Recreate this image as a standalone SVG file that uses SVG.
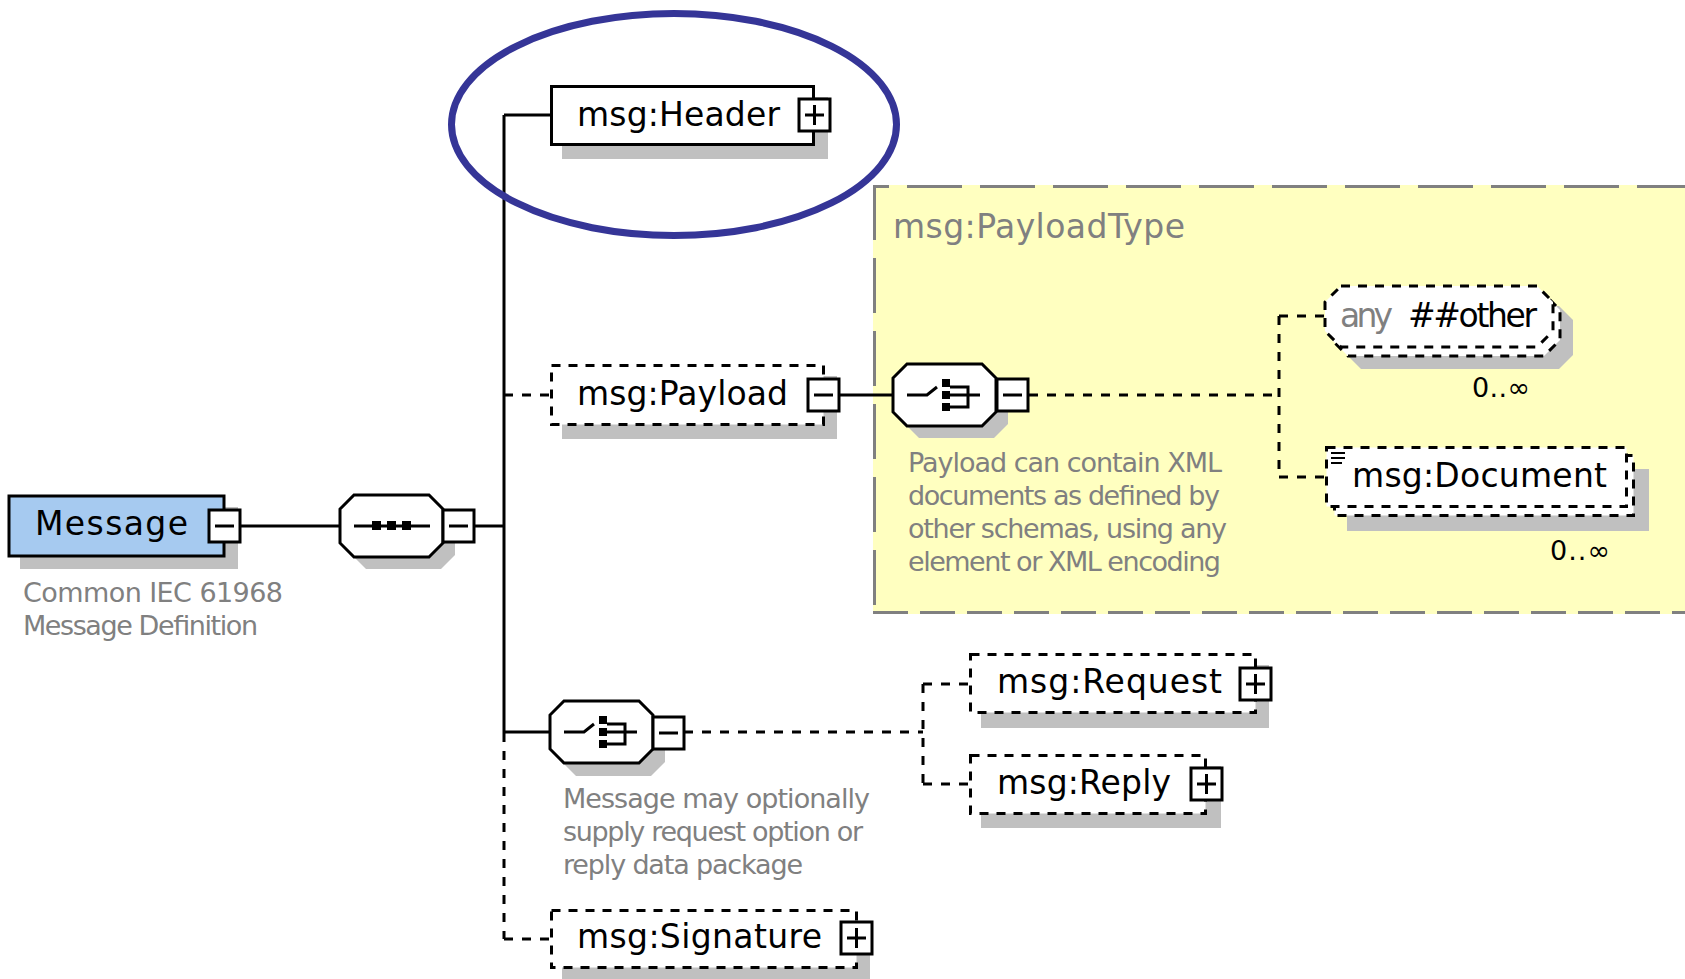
<svg xmlns="http://www.w3.org/2000/svg" xmlns:xlink="http://www.w3.org/1999/xlink" width="1685" height="979" viewBox="0 0 1685 979">
<style>
.box{fill:#fff;stroke:#000;stroke-width:3}
.dbox{fill:#fff;stroke:#000;stroke-width:3;stroke-dasharray:9 8}
.shadow{fill:#c0c0c0;stroke:none}
.ln{stroke:#000;stroke-width:3;fill:none}
.dln{stroke:#000;stroke-width:3;fill:none;stroke-dasharray:9 9}
.lbl{font-family:"DejaVu Sans",Verdana,sans-serif;font-size:33px;fill:#000}
.desc{font-family:"DejaVu Sans",Verdana,sans-serif;font-size:27px;fill:#808080}
.gray{fill:#808080}
.sq{fill:#000}
</style>
<defs>
<path id="oct" d="M14,0 H89 L103,14 V48 L89,62 H14 L0,48 V14 Z"/>
<g id="minus"><rect x="0" y="0" width="31" height="32" class="box"/><path d="M6,16 H25" class="ln"/></g>
<g id="plus"><rect x="0" y="0" width="31" height="32" class="box"/><path d="M6,16 H25 M15.5,6 V26" class="ln"/></g>
<g id="choiceIcon">
<path d="M14,0 H34 L44,-8" class="ln"/>
<rect x="49" y="-16" width="8" height="8" class="sq"/>
<rect x="49" y="-4" width="8" height="8" class="sq"/>
<rect x="49" y="8" width="8" height="8" class="sq"/>
<path d="M57,-8 H75 V12 H57 M57,0 H87" class="ln"/>
</g>
</defs>

<rect width="1685" height="979" fill="#fff"/>

<!-- PayloadType complex type area -->
<g id="payloadType">
<rect x="873" y="185" width="820" height="429" fill="#ffffc0"/>
<path d="M873,186.5 H1685" stroke="#808080" stroke-width="3" stroke-dasharray="55 18" stroke-dashoffset="39" fill="none"/>
<path d="M874.5,185 V614" stroke="#808080" stroke-width="3" stroke-dasharray="55 18" fill="none"/>
<path d="M873,612.5 H1685" stroke="#808080" stroke-width="3" stroke-dasharray="35 12" fill="none"/>
<text x="893" y="238" class="lbl gray" font-size="32" textLength="292" lengthAdjust="spacing">msg:PayloadType</text>
</g>

<g id="connectors">
<path d="M240,526 H340" class="ln"/>
<path d="M475,526 H504" class="ln"/>
<path d="M504,115 V733" class="ln"/>
<path d="M504,733 V939" class="dln"/>
<path d="M504,115 H551" class="ln"/>
<path d="M504,395 H551" class="dln"/>
<path d="M504,732 H550" class="ln"/>
<path d="M504,939 H551" class="dln"/>
<path d="M839,395 H893" class="ln"/>
<path d="M1029,395 H1279" class="dln"/>
<path d="M1279,316 V478" class="dln"/>
<path d="M1279,316 H1325" class="dln"/>
<path d="M1279,477 H1325" class="dln"/>
<path d="M684,732 H923" class="dln"/>
<path d="M923,684 V785" class="dln"/>
<path d="M923,684 H970" class="dln"/>
<path d="M923,784 H970" class="dln"/>
</g>

<g id="message">
<rect x="20" y="507" width="218" height="62" class="shadow"/>
<rect x="9" y="496" width="215" height="60" fill="#a6caf0" stroke="#000" stroke-width="3"/>
<use xlink:href="#minus" x="209" y="510"/>
<text x="35" y="535" class="lbl" textLength="153" lengthAdjust="spacing">Message</text>
<text x="23" y="602" class="desc" textLength="260" lengthAdjust="spacing">Common IEC 61968</text>
<text x="23" y="635" class="desc" textLength="235" lengthAdjust="spacing">Message Definition</text>
</g>

<g id="sequence">
<use xlink:href="#oct" x="352" y="507" class="shadow"/>
<use xlink:href="#oct" x="340" y="495" class="box"/>
<path d="M354,526 H430" class="ln"/>
<rect x="372" y="521" width="9" height="9" class="sq"/>
<rect x="387" y="521" width="9" height="9" class="sq"/>
<rect x="402" y="521" width="9" height="9" class="sq"/>
<use xlink:href="#minus" x="443" y="510"/>
</g>

<g id="header">
<rect x="562" y="97" width="266" height="62" class="shadow"/>
<rect x="551.5" y="86.5" width="262" height="58" class="box"/>
<use xlink:href="#plus" x="799" y="99"/>
<text x="577" y="126" class="lbl" textLength="203" lengthAdjust="spacing">msg:Header</text>
</g>

<g id="payload">
<rect x="562" y="376" width="275" height="63" class="shadow"/>
<rect x="551.5" y="365.5" width="272" height="59" class="dbox"/>
<use xlink:href="#minus" x="808" y="379"/>
<text x="577" y="405" class="lbl" textLength="211" lengthAdjust="spacing">msg:Payload</text>
</g>

<g id="payloadChoice">
<use xlink:href="#oct" x="905" y="376" class="shadow"/>
<use xlink:href="#oct" x="893" y="364" class="box"/>
<use xlink:href="#choiceIcon" x="893" y="395"/>
<use xlink:href="#minus" x="997" y="379"/>
<text x="908" y="472" class="desc" textLength="314" lengthAdjust="spacing">Payload can contain XML</text>
<text x="908" y="505" class="desc" textLength="312" lengthAdjust="spacing">documents as defined by</text>
<text x="908" y="538" class="desc" textLength="319" lengthAdjust="spacing">other schemas, using any</text>
<text x="908" y="571" class="desc" textLength="313" lengthAdjust="spacing">element or XML encoding</text>
</g>

<g id="anyOther">
<path d="M1361,306 H1559 L1573,320 V355 L1559,369 H1361 L1347,355 V320 Z" class="shadow"/>
<path d="M1348,294 H1544 L1560,310 V340 L1544,356 H1348 L1332,340 V310 Z" class="dbox"/>
<path d="M1341,286 H1537 L1553,302 V331 L1537,347 H1341 L1325,331 V302 Z" class="dbox"/>
<text x="1340" y="327" class="lbl gray" font-size="31" textLength="53" lengthAdjust="spacing">any</text>
<text x="1408" y="327" class="lbl" font-size="31" textLength="129" lengthAdjust="spacing">##other</text>
<text x="1472" y="397" class="desc" fill="#000" style="fill:#000" textLength="58" lengthAdjust="spacing">0..∞</text>
</g>

<g id="document">
<rect x="1347" y="469" width="302" height="62" class="shadow"/>
<rect x="1334.5" y="455.5" width="299" height="60" class="dbox"/>
<rect x="1326.5" y="447.5" width="300" height="59" class="dbox"/>
<path d="M1331,453 H1345 M1331,458 H1345 M1331,463 H1342" stroke="#000" stroke-width="2"/>
<text x="1352" y="487" class="lbl" textLength="255" lengthAdjust="spacing">msg:Document</text>
<text x="1550" y="560" class="desc" style="fill:#000" textLength="60" lengthAdjust="spacing">0..∞</text>
</g>

<g id="mainChoice">
<use xlink:href="#oct" x="562" y="714" class="shadow"/>
<use xlink:href="#oct" x="550" y="701" class="box"/>
<use xlink:href="#choiceIcon" x="550" y="732"/>
<use xlink:href="#minus" x="653" y="717"/>
<text x="563" y="808" class="desc" textLength="307" lengthAdjust="spacing">Message may optionally</text>
<text x="563" y="841" class="desc" textLength="300" lengthAdjust="spacing">supply request option or</text>
<text x="563" y="874" class="desc" textLength="240" lengthAdjust="spacing">reply data package</text>
</g>

<g id="request">
<rect x="981" y="665" width="288" height="63" class="shadow"/>
<rect x="970.5" y="654.5" width="285" height="58" class="dbox"/>
<use xlink:href="#plus" x="1240" y="668"/>
<text x="997" y="693" class="lbl" textLength="225" lengthAdjust="spacing">msg:Request</text>
</g>

<g id="reply">
<rect x="981" y="766" width="240" height="62" class="shadow"/>
<rect x="970.5" y="755.5" width="235" height="58" class="dbox"/>
<use xlink:href="#plus" x="1191" y="768"/>
<text x="997" y="794" class="lbl" textLength="174" lengthAdjust="spacing">msg:Reply</text>
</g>

<g id="signature">
<rect x="562" y="921" width="308" height="58" class="shadow"/>
<rect x="551.5" y="910.5" width="305" height="57" class="dbox"/>
<use xlink:href="#plus" x="841" y="922"/>
<text x="577" y="948" class="lbl" textLength="245" lengthAdjust="spacing">msg:Signature</text>
</g>

<g id="highlight">
<ellipse cx="674" cy="124.5" rx="222.5" ry="111" fill="none" stroke="#353597" stroke-width="7"/>
</g>
</svg>
